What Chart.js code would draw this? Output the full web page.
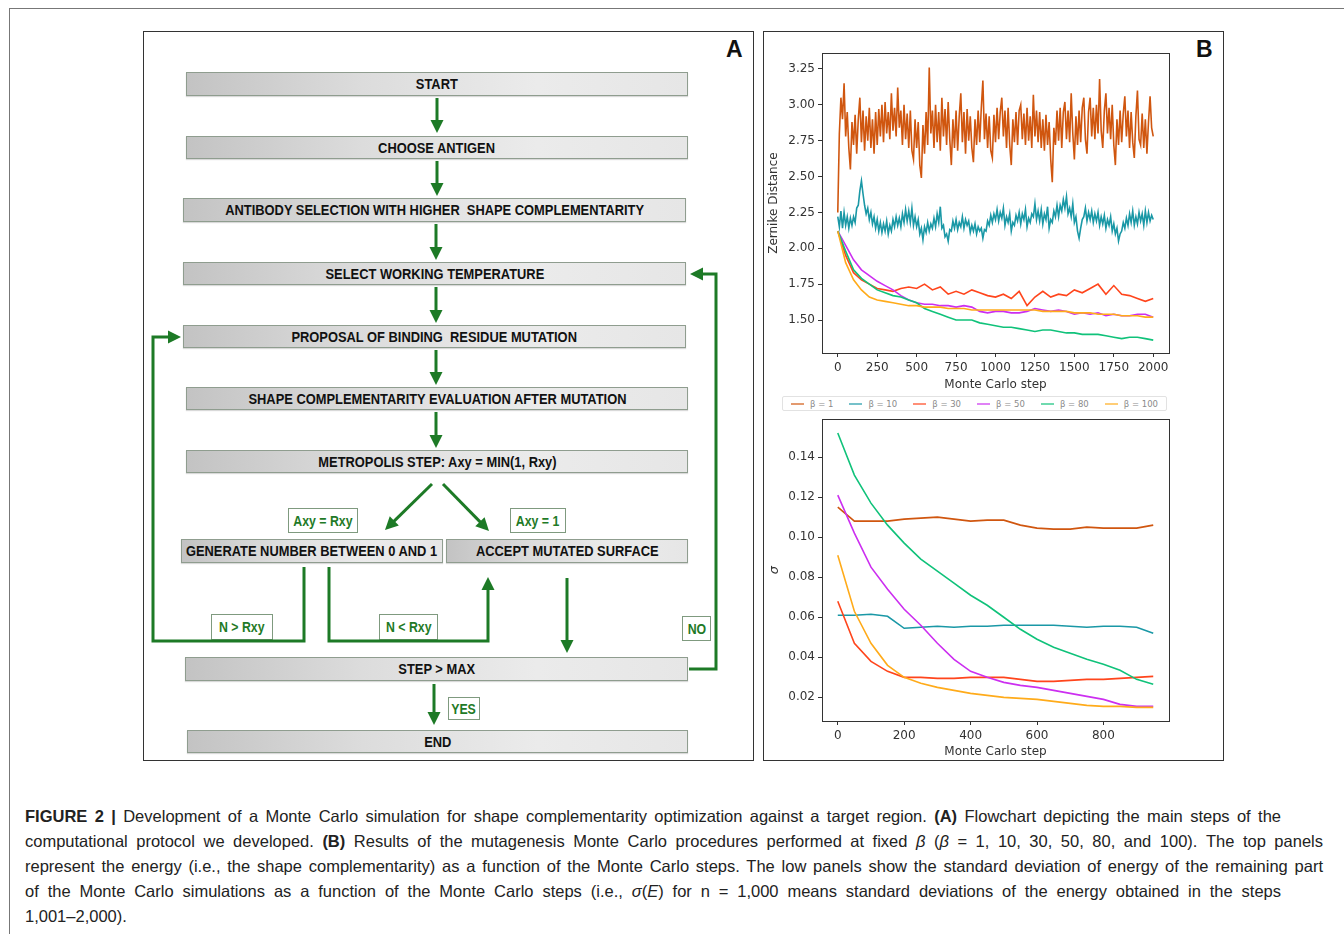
<!DOCTYPE html>
<html>
<head>
<meta charset="utf-8">
<script src="https://cdn.jsdelivr.net/npm/chart.js@4.4.0/dist/chart.umd.min.js"></script>
<style>
  body { margin: 0; width: 1344px; height: 934px; position: relative; background: #fff; overflow: hidden; font-family: 'Liberation Sans', Arial, sans-serif; }
  .outer { position: absolute; left: 9px; top: 8px; width: 1340px; height: 930px; border-top: 1px solid #777; border-left: 1px solid #777; }
  .panel { position: absolute; border: 1px solid #333; box-sizing: border-box; }
  .tag { position: absolute; font: bold 23px 'Liberation Sans', Arial, sans-serif; color: #111; }
  .fbox { position: absolute; box-sizing: border-box; border: 1px solid #8f9d8f;
          background: linear-gradient(to right, #c3c3c3 0%, #dcdcdc 35%, #ebebeb 70%, #e6e6e6 100%);
          box-shadow: 0 1px 1px rgba(0,0,0,0.15);
          display: flex; align-items: center; justify-content: center;
          font: bold 14px 'Liberation Sans', Arial, sans-serif; color: #111; white-space: nowrap; }
  .fbox span { display: inline-block; transform: scaleX(0.92); }
  .lbox { position: absolute; box-sizing: border-box; border: 1px solid #7f9a7f; background: #fff;
          display: flex; align-items: center; justify-content: center;
          font: bold 14.5px 'Liberation Sans', Arial, sans-serif; color: #1f7a27; white-space: nowrap; }
  .lbox span { display: inline-block; transform: scaleX(0.85); }
  .chartbox { position: absolute; }
  #legend { position: absolute; left: 782px; top: 396px; width: 385px; height: 15px; box-sizing: border-box;
            border: 1px solid #e2e2e2; border-radius: 2px; display: flex; align-items: center; justify-content: space-between;
            padding: 0 8px; }
  #legend .it { display: flex; align-items: center; font: 8.5px 'DejaVu Sans', sans-serif; color: #8a8a8a; white-space: nowrap; }
  #legend .ln { width: 13px; height: 2px; margin-right: 6px; opacity: 0.6; }
  .cap { position: absolute; left: 25px; font: 16.5px 'Liberation Sans', Arial, sans-serif; color: #222; white-space: nowrap; }
  .cap.j { text-align: justify; text-align-last: justify; white-space: normal; }
</style>
</head>
<body>
<div class="outer"></div>
<div class="panel" style="left:143px;top:31px;width:611px;height:730px"></div>
<div class="panel" style="left:763px;top:31px;width:461px;height:730px"></div>
<div class="tag" style="left:726px;top:36px">A</div>
<div class="tag" style="left:1196px;top:36px">B</div>

<div id="flow"></div>
<svg id="arrows" width="1344" height="934" style="position:absolute;left:0;top:0"></svg>

<div class="chartbox" style="left:765px;top:43px;width:410px;height:350px"><canvas id="top" width="410" height="350"></canvas></div>
<div id="legend"></div>
<div class="chartbox" style="left:765px;top:409px;width:410px;height:351px"><canvas id="bottom" width="410" height="351"></canvas></div>

<div class="cap j" style="top:807px;width:1256px"><b>FIGURE 2 |</b> Development of a Monte Carlo simulation for shape complementarity optimization against a target region. <b>(A)</b> Flowchart depicting the main steps of the</div>
<div class="cap j" style="top:832px;width:1298px">computational protocol we developed. <b>(B)</b> Results of the mutagenesis Monte Carlo procedures performed at fixed <i>β</i> (<i>β</i> = 1, 10, 30, 50, 80, and 100). The top panels</div>
<div class="cap j" style="top:857px;width:1298px">represent the energy (i.e., the shape complementarity) as a function of the Monte Carlo steps. The low panels show the standard deviation of energy of the remaining part</div>
<div class="cap j" style="top:882px;width:1256px">of the Monte Carlo simulations as a function of the Monte Carlo steps (i.e., <i>σ</i>(<i>E</i>) for n = 1,000 means standard deviations of the energy obtained in the steps</div>
<div class="cap" style="top:907px">1,001–2,000).</div>

<script>
// ---- data ----
const betaLabels = ['β = 1', 'β = 10', 'β = 30', 'β = 50', 'β = 80', 'β = 100'];
const colors = ['#d0560f', '#1a98a6', '#ff451c', '#cc2ff0', '#10c27a', '#ffab1a'];

// Monte Carlo steps for the noisy runs (every 10 steps) and the smooth ones (every 50)
const stepsFine = [0,10,20,30,40,50,60,70,80,90,100,110,120,130,140,150,160,170,180,190,
  200,210,220,230,240,250,260,270,280,290,300,310,320,330,340,350,360,370,380,390,
  400,410,420,430,440,450,460,470,480,490,500,510,520,530,540,550,560,570,580,590,
  600,610,620,630,640,650,660,670,680,690,700,710,720,730,740,750,760,770,780,790,
  800,810,820,830,840,850,860,870,880,890,900,910,920,930,940,950,960,970,980,990,
  1000,1010,1020,1030,1040,1050,1060,1070,1080,1090,1100,1110,1120,1130,1140,1150,1160,1170,1180,1190,
  1200,1210,1220,1230,1240,1250,1260,1270,1280,1290,1300,1310,1320,1330,1340,1350,1360,1370,1380,1390,
  1400,1410,1420,1430,1440,1450,1460,1470,1480,1490,1500,1510,1520,1530,1540,1550,1560,1570,1580,1590,
  1600,1610,1620,1630,1640,1650,1660,1670,1680,1690,1700,1710,1720,1730,1740,1750,1760,1770,1780,1790,
  1800,1810,1820,1830,1840,1850,1860,1870,1880,1890,1900,1910,1920,1930,1940,1950,1960,1970,1980,1990,2000];
const stepsCoarse = [0,50,100,150,200,250,300,350,400,450,500,550,600,650,700,750,800,850,900,950,
  1000,1050,1100,1150,1200,1250,1300,1350,1400,1450,1500,1550,1600,1650,1700,1750,1800,1850,1900,1950,2000];

// Zernike distance
const zBeta1 = [
  2.25,2.80,3.05,2.90,3.15,2.78,2.95,2.70,2.55,2.88,
  2.72,2.93,2.66,2.90,3.05,2.74,2.96,2.68,2.92,2.75,
  2.98,2.70,2.90,2.66,2.95,2.72,2.97,2.78,3.00,2.74,
  3.02,2.80,2.95,2.76,3.08,2.82,2.98,2.78,3.12,2.84,
  2.96,2.72,3.00,2.76,2.94,2.70,2.96,2.68,2.62,2.90,
  2.70,2.88,2.58,2.49,2.86,2.66,2.95,2.72,3.26,2.80,
  2.96,2.70,3.00,2.74,2.95,2.68,3.05,2.78,2.97,2.72,
  3.02,2.76,2.58,2.90,2.70,2.96,2.68,2.92,3.08,2.74,
  2.95,2.66,2.97,2.75,2.92,2.70,2.60,2.90,2.72,2.96,
  2.74,2.98,3.17,2.76,2.94,2.70,2.92,2.68,2.63,2.93,
  2.74,2.98,2.76,2.95,3.05,2.78,2.96,2.70,2.98,2.72,
  2.58,2.90,2.74,2.95,2.72,2.96,3.00,2.76,2.94,2.72,
  2.98,2.75,2.92,2.70,3.07,2.78,2.96,2.74,2.95,2.70,
  2.90,2.68,2.93,2.72,2.88,2.62,2.46,2.84,2.72,2.96,
  2.75,2.98,2.70,2.95,3.02,2.76,2.96,2.74,3.08,2.80,
  2.62,2.92,2.72,2.96,2.74,2.98,3.05,2.76,2.66,2.95,
  3.05,2.78,2.98,2.76,3.00,2.80,3.18,2.82,2.70,2.96,
  3.08,2.80,2.98,2.76,3.00,2.72,2.58,2.90,2.72,2.96,
  2.74,2.94,3.06,2.78,2.96,2.70,2.95,2.74,2.63,2.92,
  3.10,2.76,2.72,2.94,2.70,2.90,2.66,2.88,3.06,2.84,
  2.78];
const zBeta10 = [
  2.22,2.15,2.26,2.14,2.25,2.16,2.22,2.14,2.21,2.16,
  2.22,2.18,2.28,2.30,2.40,2.47,2.38,2.30,2.24,2.28,
  2.20,2.25,2.17,2.22,2.14,2.20,2.12,2.18,2.11,2.17,
  2.12,2.19,2.10,2.16,2.12,2.20,2.15,2.22,2.16,2.21,
  2.15,2.24,2.18,2.27,2.19,2.26,2.18,2.28,2.16,2.22,
  2.15,2.20,2.10,2.14,2.06,2.15,2.11,2.18,2.12,2.17,
  2.14,2.21,2.15,2.24,2.18,2.29,2.14,2.16,2.08,2.10,
  2.05,2.13,2.12,2.19,2.14,2.20,2.13,2.18,2.15,2.22,
  2.14,2.20,2.16,2.19,2.11,2.16,2.12,2.17,2.10,2.15,
  2.12,2.14,2.07,2.13,2.12,2.19,2.16,2.23,2.18,2.24,
  2.20,2.27,2.19,2.25,2.21,2.28,2.16,2.22,2.18,2.24,
  2.12,2.18,2.16,2.23,2.19,2.25,2.17,2.24,2.20,2.27,
  2.15,2.21,2.18,2.24,2.22,2.31,2.20,2.26,2.19,2.27,
  2.17,2.24,2.20,2.29,2.14,2.20,2.18,2.26,2.22,2.30,
  2.22,2.30,2.26,2.34,2.28,2.36,2.24,2.28,2.22,2.31,
  2.18,2.22,2.12,2.07,2.14,2.20,2.22,2.28,2.19,2.25,
  2.20,2.26,2.18,2.24,2.19,2.25,2.16,2.22,2.17,2.23,
  2.14,2.20,2.16,2.22,2.12,2.17,2.10,2.14,2.05,2.10,
  2.12,2.18,2.14,2.21,2.16,2.24,2.18,2.26,2.16,2.22,
  2.17,2.25,2.19,2.24,2.16,2.26,2.18,2.25,2.19,2.23,
  2.20];
const zBeta30 = [2.12,1.95,1.83,1.78,1.75,1.72,1.71,1.70,1.72,1.73,1.72,1.75,1.71,1.73,1.68,1.70,1.68,1.71,1.69,1.67,
  1.66,1.68,1.65,1.70,1.60,1.66,1.70,1.66,1.68,1.67,1.71,1.69,1.72,1.75,1.68,1.74,1.68,1.67,1.65,1.63,1.65];
const zBeta50 = [2.12,2.02,1.92,1.85,1.81,1.77,1.74,1.71,1.67,1.64,1.62,1.61,1.61,1.60,1.60,1.59,1.60,1.59,1.56,1.55,
  1.56,1.56,1.55,1.55,1.56,1.58,1.57,1.56,1.57,1.56,1.54,1.55,1.54,1.55,1.53,1.54,1.53,1.53,1.54,1.54,1.52];
const zBeta80 = [2.12,1.98,1.85,1.79,1.75,1.71,1.69,1.67,1.66,1.64,1.62,1.58,1.56,1.54,1.52,1.50,1.50,1.50,1.48,1.47,
  1.46,1.45,1.45,1.44,1.43,1.42,1.43,1.43,1.42,1.41,1.41,1.40,1.40,1.40,1.39,1.38,1.37,1.38,1.38,1.37,1.36];
const zBeta100 = [2.12,1.90,1.78,1.71,1.66,1.64,1.63,1.62,1.61,1.60,1.60,1.59,1.59,1.59,1.58,1.58,1.58,1.57,1.57,1.57,
  1.57,1.57,1.57,1.57,1.57,1.57,1.56,1.56,1.56,1.56,1.55,1.55,1.55,1.54,1.54,1.54,1.53,1.53,1.53,1.52,1.52];

// standard deviation of the remaining part of the run
const sigmaSteps = [0,50,100,150,200,250,300,350,400,450,500,550,600,650,700,750,800,850,900,950];
const sBeta1 = [0.115,0.108,0.108,0.108,0.109,0.1095,0.110,0.109,0.108,0.1085,0.1085,0.106,0.1045,0.104,0.104,0.105,0.1045,0.1045,0.1045,0.106];
const sBeta10 = [0.061,0.061,0.0615,0.0605,0.0545,0.055,0.0555,0.055,0.0555,0.0555,0.056,0.056,0.056,0.056,0.0555,0.055,0.0555,0.0555,0.055,0.052];
const sBeta30 = [0.068,0.047,0.038,0.033,0.030,0.030,0.0295,0.0295,0.030,0.030,0.030,0.029,0.028,0.028,0.0285,0.029,0.029,0.0295,0.030,0.0305];
const sBeta50 = [0.121,0.102,0.085,0.074,0.064,0.056,0.047,0.039,0.033,0.030,0.0275,0.026,0.025,0.0235,0.022,0.0205,0.019,0.0165,0.0155,0.0155];
const sBeta80 = [0.152,0.131,0.117,0.106,0.097,0.089,0.083,0.077,0.071,0.066,0.060,0.054,0.049,0.045,0.042,0.039,0.0365,0.0335,0.029,0.0265];
const sBeta100 = [0.091,0.063,0.047,0.036,0.030,0.027,0.025,0.0235,0.022,0.021,0.020,0.0195,0.019,0.018,0.017,0.016,0.0155,0.0155,0.015,0.015];

const topXTicks = [0,250,500,750,1000,1250,1500,1750,2000];
const topYTicks = [1.50,1.75,2.00,2.25,2.50,2.75,3.00,3.25];
const botXTicks = [0,200,400,600,800];
const botYTicks = [0.02,0.04,0.06,0.08,0.10,0.12,0.14];

// ---- flowchart (panel A) ----
const flowBoxes = [
  ['START', 186, 72, 502, 24],
  ['CHOOSE ANTIGEN', 186, 136, 502, 23],
  ['ANTIBODY SELECTION WITH HIGHER&nbsp; SHAPE COMPLEMENTARITY', 183, 198, 503, 24],
  ['SELECT WORKING TEMPERATURE', 183, 262, 503, 23],
  ['PROPOSAL OF BINDING&nbsp; RESIDUE MUTATION', 183, 325, 503, 23],
  ['SHAPE COMPLEMENTARITY EVALUATION AFTER MUTATION', 186, 387, 502, 23],
  ['METROPOLIS STEP: Axy = MIN(1, Rxy)', 186, 450, 502, 23],
  ['GENERATE NUMBER BETWEEN 0 AND 1', 181, 539, 262, 24],
  ['ACCEPT MUTATED SURFACE', 446, 539, 242, 24],
  ['STEP &gt; MAX', 185, 657, 503, 24],
  ['END', 187, 730, 501, 23]
];
const flowLabels = [
  ['Axy = Rxy', 288, 508, 70, 25],
  ['Axy = 1', 510, 508, 56, 25],
  ['N &gt; Rxy', 211, 614, 62, 26],
  ['N &lt; Rxy', 379, 614, 59, 26],
  ['NO', 682, 616, 29, 25],
  ['YES', 448, 697, 32, 23]
];
const flowArrows = [
  [[437,98],[437,133]],
  [[437,161],[437,196]],
  [[436,224],[436,260]],
  [[436,287],[436,323]],
  [[436,350],[436,385]],
  [[436,412],[436,448]],
  [[432,484],[385,530]],
  [[443,484],[489,531]],
  [[304,567],[304,641],[153,641],[153,337],[181,337]],
  [[329,567],[329,641],[488,641],[488,577]],
  [[567,578],[567,653]],
  [[689,669],[716,669],[716,274],[690,274]],
  [[434,684],[434,725]]
];

const flow = document.getElementById('flow');
flowBoxes.forEach(([t, x, y, w, h]) => {
  flow.innerHTML += `<div class="fbox" style="left:${x}px;top:${y}px;width:${w}px;height:${h}px"><span>${t}</span></div>`;
});
flowLabels.forEach(([t, x, y, w, h]) => {
  flow.innerHTML += `<div class="lbox" style="left:${x}px;top:${y}px;width:${w}px;height:${h}px"><span>${t}</span></div>`;
});

const green = '#1d7a26';
let svg = '';
flowArrows.forEach(pts => {
  const n = pts.length;
  const [tx, ty] = pts[n - 1];
  const [px, py] = pts[n - 2];
  const len = Math.hypot(tx - px, ty - py);
  const ux = (tx - px) / len, uy = (ty - py) / len;
  const head = 13, half = 6.5;
  const bx = tx - ux * head, by = ty - uy * head;
  const line = pts.slice(0, n - 1).concat([[bx + ux, by + uy]]).map(p => p.join(',')).join(' ');
  svg += `<polyline points="${line}" fill="none" stroke="${green}" stroke-width="3" stroke-linejoin="miter"/>`;
  svg += `<polygon points="${tx},${ty} ${bx - uy * half},${by + ux * half} ${bx + uy * half},${by - ux * half}" fill="${green}"/>`;
});
document.getElementById('arrows').innerHTML = svg;

// ---- legend (between the two plots) ----
document.getElementById('legend').innerHTML = betaLabels.map((l, i) =>
  `<span class="it"><span class="ln" style="background:${colors[i]}"></span>${l}</span>`).join('');

// ---- charts (panel B) ----
const boxPlugin = {
  id: 'plotBox',
  afterDraw(chart) {
    const a = chart.chartArea, c = chart.ctx;
    c.save();
    c.strokeStyle = '#333';
    c.lineWidth = 1;
    const l = Math.round(a.left) + 0.5, t = Math.round(a.top) + 0.5;
    c.strokeRect(l, t, Math.round(a.right) - Math.round(a.left), Math.round(a.bottom) - Math.round(a.top));
    c.restore();
  }
};

const tickFont = { family: 'DejaVu Sans', size: 12 };

const makeScales = (xr, xTicks, yr, yTicks, yTitle, yTitleFont, xHeight) => ({
  x: {
    type: 'linear', min: xr[0], max: xr[1],
    afterBuildTicks: s => { s.ticks = xTicks.map(v => ({ value: v })); },
    afterFit: s => { s.height = xHeight; },
    ticks: { autoSkip: false, maxRotation: 0, padding: 4, color: '#333', font: tickFont, callback: v => String(v) },
    grid: { drawOnChartArea: false, tickLength: 4, color: '#333' },
    border: { display: false },
    title: { display: true, text: 'Monte Carlo step', color: '#333', font: tickFont, padding: { top: 0, bottom: 1 } }
  },
  y: {
    min: yr[0], max: yr[1],
    afterBuildTicks: s => { s.ticks = yTicks.map(v => ({ value: v })); },
    afterFit: s => { s.width = 57; },
    ticks: { autoSkip: false, padding: 3, color: '#333', font: tickFont, callback: v => v.toFixed(2) },
    grid: { drawOnChartArea: false, tickLength: 4, color: '#333' },
    border: { display: false },
    title: { display: true, text: yTitle, color: '#333', font: yTitleFont, padding: { top: 2, bottom: 0 } }
  }
});

const lineSet = (label, xs, ys, i) => ({
  label: label,
  data: xs.map((x, k) => ({ x: x, y: ys[k] })),
  borderColor: colors[i],
  backgroundColor: colors[i],
  borderWidth: 1.6,
  pointRadius: 0,
  tension: 0,
  order: 6 - i
});

const baseOptions = (scales, pad) => ({
  responsive: false,
  animation: false,
  devicePixelRatio: 1,
  layout: { padding: pad },
  plugins: { legend: { display: false }, tooltip: { enabled: false } },
  scales: scales
});

new Chart(document.getElementById('top'), {
  type: 'line',
  data: {
    datasets: [
      lineSet(betaLabels[0], stepsFine, zBeta1, 0),
      lineSet(betaLabels[1], stepsFine, zBeta10, 1),
      lineSet(betaLabels[2], stepsCoarse, zBeta30, 2),
      lineSet(betaLabels[3], stepsCoarse, zBeta50, 3),
      lineSet(betaLabels[4], stepsCoarse, zBeta80, 4),
      lineSet(betaLabels[5], stepsCoarse, zBeta100, 5)
    ]
  },
  options: baseOptions(
    makeScales([-100, 2100], topXTicks, [1.27, 3.36], topYTicks, 'Zernike Distance', tickFont, 40),
    { top: 5, right: 6, left: 0, bottom: 0 }),
  plugins: [boxPlugin]
});

new Chart(document.getElementById('bottom'), {
  type: 'line',
  data: {
    datasets: [
      lineSet(betaLabels[0], sigmaSteps, sBeta1, 0),
      lineSet(betaLabels[1], sigmaSteps, sBeta10, 1),
      lineSet(betaLabels[2], sigmaSteps, sBeta30, 2),
      lineSet(betaLabels[3], sigmaSteps, sBeta50, 3),
      lineSet(betaLabels[4], sigmaSteps, sBeta80, 4),
      lineSet(betaLabels[5], sigmaSteps, sBeta100, 5)
    ]
  },
  options: baseOptions(
    makeScales([-47.5, 997.5], botXTicks, [0.0082, 0.1589], botYTicks, 'σ', { family: 'DejaVu Sans', size: 13, style: 'italic' }, 39),
    { top: 4, right: 6, left: 0, bottom: 0 }),
  plugins: [boxPlugin]
});
</script>
</body>
</html>
